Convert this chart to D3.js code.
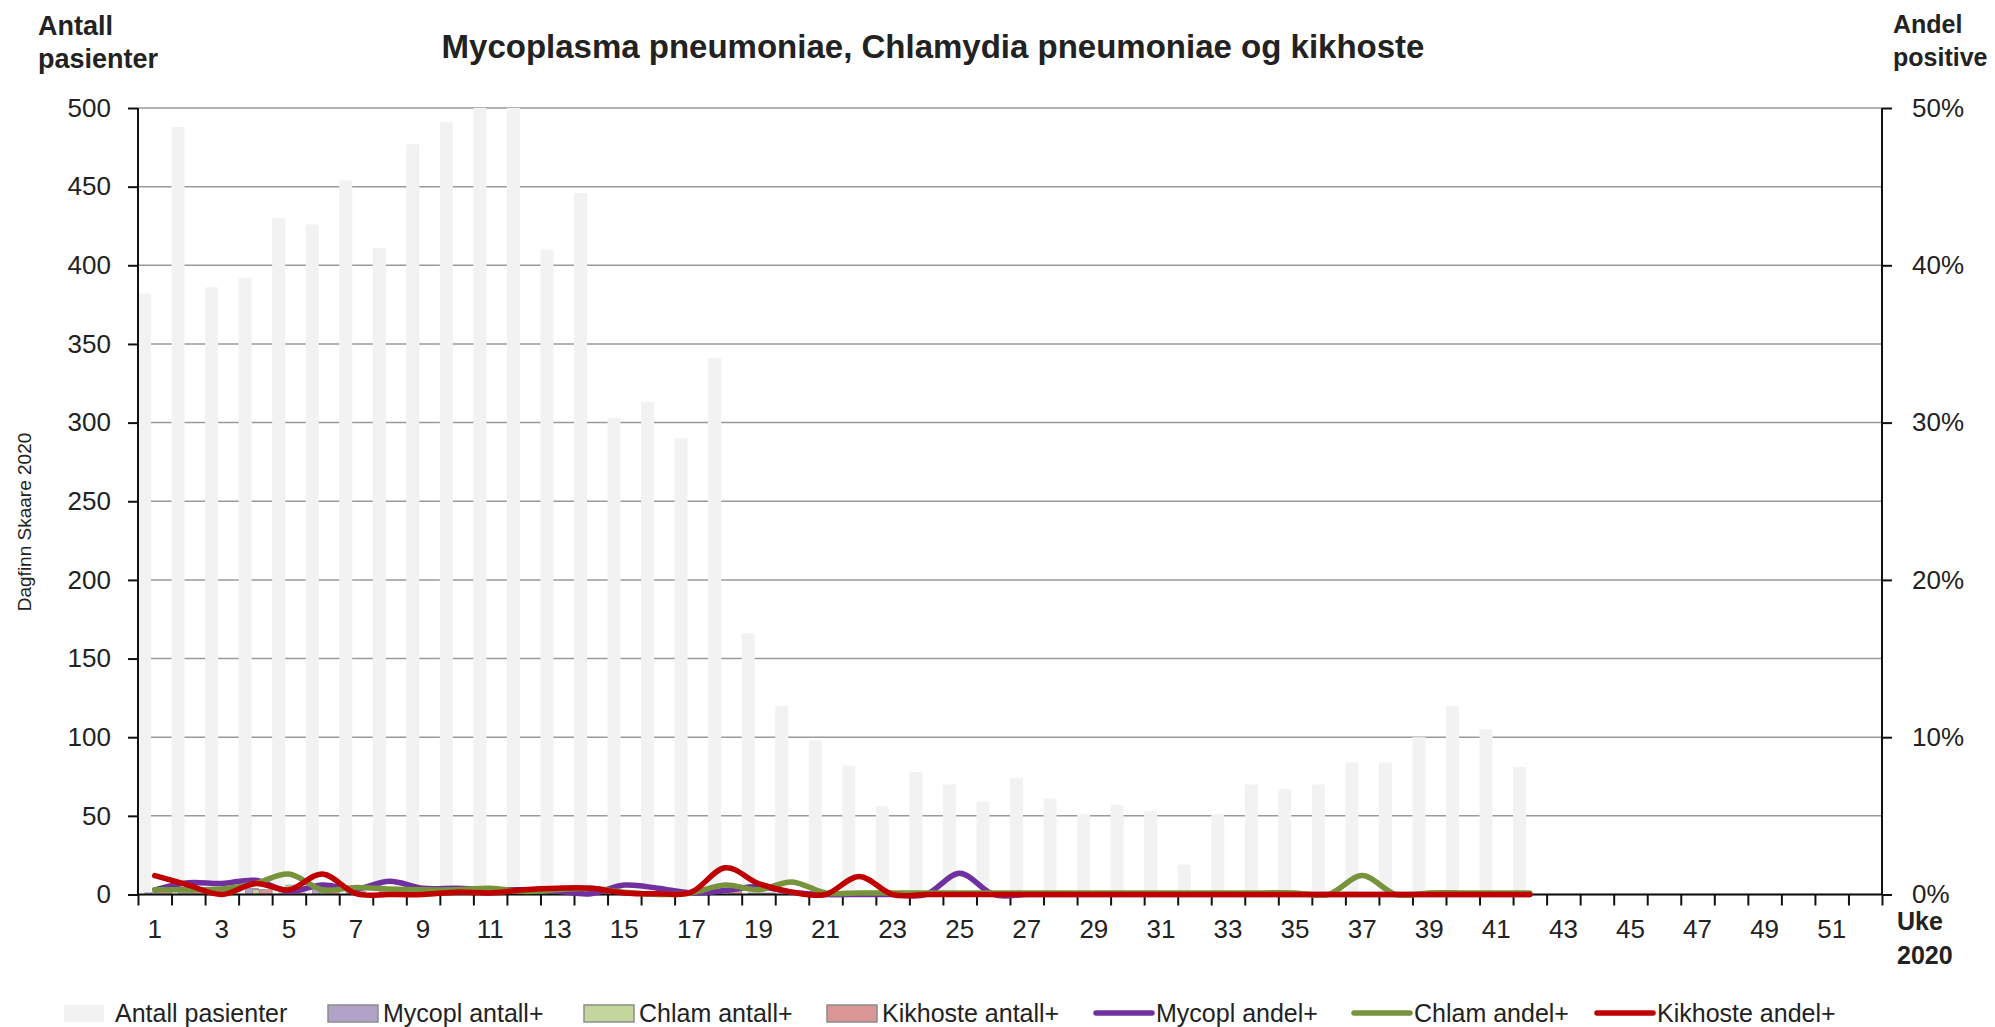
<!DOCTYPE html>
<html lang="no">
  <head>
    <meta charset="UTF-8" />
    <title>Mycoplasma pneumoniae, Chlamydia pneumoniae og kikhoste</title>
    <script src="https://d3js.org/d3.v7.min.js"></script>
    <style>
      body {
        margin: 0;
        background: #fff;
      }
      svg {
        font-family: "Liberation Sans", Arial, sans-serif;
        fill: #222;
      }
      .tick text {
        fill: #222;
      }
    </style>
  </head>
  <body>
    <svg id="chart" width="1995" height="1027"></svg>
    <script>
      // uke 1..52, data finnes for uke 1..42
      const weeks = d3.range(1, 53);
      const dataWeeks = d3.range(1, 43);

      const antallPasienter = [382, 488, 386, 392, 430, 426, 454, 411, 477, 491, 515, 520, 410, 446, 303, 313, 290, 341, 166, 120, 98, 82, 56, 78, 70, 59, 74, 61, 51, 57, 53, 19, 51, 70, 67, 70, 84, 84, 100, 120, 105, 81];
      const mycoplAntall = [1, 4, 3, 4, 1, 3, 2, 4, 2, 2, 2, 2, 1, 0, 2, 1, 0, 1, 1, 0, 0, 0, 0, 0, 1, 0, 0, 0, 0, 0, 0, 0, 0, 0, 0, 0, 0, 0, 0, 0, 0, 0];
      const chlamAntall = [1, 1, 1, 3, 6, 1, 2, 1, 1, 1, 2, 1, 1, 2, 0, 0, 0, 2, 0, 1, 0, 0, 0, 0, 0, 0, 0, 0, 0, 0, 0, 0, 0, 0, 0, 0, 1, 0, 0, 0, 0, 0];
      const kikhosteAntall = [5, 3, 0, 3, 1, 6, 0, 0, 0, 1, 1, 1, 2, 2, 0, 0, 0, 6, 1, 0, 0, 1, 0, 0, 0, 0, 0, 0, 0, 0, 0, 0, 0, 0, 0, 0, 0, 0, 0, 0, 0, 0];

      // andel positive i prosent
      const mycoplAndel = [0.3, 0.75, 0.7, 0.9, 0.2, 0.6, 0.35, 0.85, 0.4, 0.4, 0.3, 0.3, 0.2, 0.05, 0.6, 0.4, 0.1, 0.25, 0.5, 0.15, 0, 0, 0, 0, 1.35, 0, 0, 0, 0, 0, 0, 0, 0, 0, 0, 0, 0, 0, 0, 0, 0, 0];
      const chlamAndel = [0.3, 0.3, 0.35, 0.7, 1.3, 0.3, 0.45, 0.35, 0.3, 0.3, 0.4, 0.2, 0.3, 0.4, 0.15, 0, 0.1, 0.6, 0.3, 0.8, 0.1, 0.1, 0.1, 0.1, 0.1, 0.1, 0.1, 0.1, 0.1, 0.1, 0.1, 0.1, 0.1, 0.1, 0.1, 0, 1.2, 0, 0.1, 0.1, 0.1, 0.1];
      const kikhosteAndel = [1.2, 0.6, 0, 0.7, 0.3, 1.3, 0.05, 0, 0, 0.15, 0.1, 0.3, 0.4, 0.4, 0.1, 0.05, 0.15, 1.7, 0.7, 0.15, 0, 1.15, 0, 0, 0, 0, 0, 0, 0, 0, 0, 0, 0, 0, 0, 0, 0, 0, 0, 0, 0, 0];

      const leftTicks = d3.range(0, 501, 50);
      const rightTicks = d3.range(0, 51, 10);

      const barSeries = [
        { name: "Antall pasienter", values: antallPasienter, fill: "#f2f2f2", stroke: "none" },
        { name: "Mycopl antall+", values: mycoplAntall, fill: "#b3a2c7", stroke: "#7f7f7f" },
        { name: "Chlam antall+", values: chlamAntall, fill: "#c3d69b", stroke: "#7f7f7f" },
        { name: "Kikhoste antall+", values: kikhosteAntall, fill: "#d99694", stroke: "#7f7f7f" },
      ];
      const lineSeries = [
        { name: "Mycopl andel+", values: mycoplAndel, color: "#7030a0" },
        { name: "Chlam andel+", values: chlamAndel, color: "#77933c" },
        { name: "Kikhoste andel+", values: kikhosteAndel, color: "#c00000" },
      ];

      const plotL = 138, plotR = 1882, plotT = 108, plotB = 894.5;

      const svg = d3.select("#chart");

      const x = d3.scaleBand().domain(weeks).range([plotL, plotR]).padding(0);
      const xEdge = d3.scaleLinear().domain([0, 52]).range([plotL, plotR]);
      const y = d3.scaleLinear().domain([0, 500]).range([plotB, plotT]);
      const y2 = d3.scaleLinear().domain([0, 50]).range([plotB, plotT]);

      svg.append("defs").append("clipPath").attr("id", "plot")
        .append("rect").attr("x", plotL).attr("y", plotT).attr("width", plotR - plotL).attr("height", plotB - plotT);

      // rutenett
      svg.append("g")
        .selectAll("line")
        .data(leftTicks)
        .join("line")
        .attr("x1", plotL).attr("x2", plotR)
        .attr("y1", (d) => y(d)).attr("y2", (d) => y(d))
        .attr("stroke", "#9a9a9a")
        .attr("stroke-width", 1.5);

      // søyler
      const barW = 13;
      const sub = d3.scalePoint().domain(barSeries.map((s) => s.name)).range([0, x.bandwidth() - barW]);
      const bars = svg.append("g").attr("clip-path", "url(#plot)");
      barSeries.forEach((s) => {
        bars.append("g")
          .selectAll("rect")
          .data(dataWeeks)
          .join("rect")
          .attr("x", (w) => x(w) + sub(s.name))
          .attr("width", barW)
          .attr("y", (w, i) => y(s.values[i]))
          .attr("height", (w, i) => plotB - y(s.values[i]))
          .attr("fill", s.fill)
          .attr("stroke", s.stroke)
          .attr("stroke-width", s.stroke === "none" ? 0 : 0.6);
      });

      // akser
      const yAxis = svg.append("g")
        .attr("transform", `translate(${plotL},0)`)
        .call(d3.axisLeft(y).tickValues(leftTicks).tickSize(10).tickPadding(17));
      const y2Axis = svg.append("g")
        .attr("transform", `translate(${plotR},0)`)
        .call(d3.axisRight(y2).tickValues(rightTicks).tickFormat((d) => d + "%").tickSize(10).tickPadding(20));
      const xTicks = svg.append("g")
        .attr("transform", `translate(0,${plotB})`)
        .call(d3.axisBottom(xEdge).tickValues(d3.range(0, 53)).tickFormat("").tickSize(11));
      const xLabels = svg.append("g")
        .attr("transform", `translate(0,${plotB})`)
        .call(d3.axisBottom(x).tickValues(weeks.filter((w) => w % 2 === 1)).tickSize(0).tickPadding(25));
      xLabels.select(".domain").remove();

      [yAxis, y2Axis, xTicks, xLabels].forEach((a) => {
        a.selectAll("text").style("font-size", "26px").attr("font-family", "Liberation Sans, Arial, sans-serif");
        a.selectAll("line, path").attr("stroke", "#111").attr("stroke-width", 2);
      });
      yAxis.select(".domain").attr("d", `M0,${plotT}V${plotB}`);
      y2Axis.select(".domain").attr("d", `M0,${plotT}V${plotB}`);
      xTicks.select(".domain").attr("d", `M${plotL},0H${plotR}`);

      // linjer
      const line = d3.line()
        .x((d) => x(d.week) + x.bandwidth() / 2)
        .y((d) => y2(d.v))
        .curve(d3.curveCatmullRom.alpha(0));
      lineSeries.forEach((s) => {
        svg.append("path")
          .datum(dataWeeks.map((w, i) => ({ week: w, v: s.values[i] })))
          .attr("d", line)
          .attr("fill", "none")
          .attr("stroke", s.color)
          .attr("stroke-width", 5.5)
          .attr("stroke-linecap", "round")
          .attr("stroke-linejoin", "round");
      });

      // tekster
      svg.append("text")
        .attr("x", 933).attr("y", 58)
        .attr("text-anchor", "middle")
        .style("font-size", "33px").style("font-weight", "bold")
        .text("Mycoplasma pneumoniae, Chlamydia pneumoniae og kikhoste");

      const bold = (lines, xPos, ys, size) => {
        lines.forEach((t, i) => {
          svg.append("text")
            .attr("x", xPos).attr("y", ys[i])
            .style("font-size", size + "px").style("font-weight", "bold")
            .text(t);
        });
      };
      bold(["Antall", "pasienter"], 38, [35, 68], 27);
      bold(["Andel", "positive"], 1893, [33, 66], 25);
      bold(["Uke", "2020"], 1897, [930, 964], 25);

      svg.append("text")
        .attr("transform", "translate(31,522) rotate(-90)")
        .attr("text-anchor", "middle")
        .style("font-size", "19px")
        .text("Dagfinn Skaare 2020");

      // forklaring
      const legendX = [64, 328, 584, 827, 1096, 1354, 1597];
      const legendY = 1013;
      const legend = svg.append("g");
      barSeries.forEach((s, i) => {
        const g = legend.append("g").attr("transform", `translate(${legendX[i]},${legendY})`);
        g.append("rect")
          .attr("x", 0).attr("y", -8)
          .attr("width", i === 0 ? 40 : 50).attr("height", 17)
          .attr("fill", s.fill)
          .attr("stroke", s.stroke === "none" ? "none" : "#8c8c8c")
          .attr("stroke-width", 1.5);
        g.append("text")
          .attr("x", i === 0 ? 51 : 55).attr("y", 9)
          .style("font-size", "25px")
          .text(s.name);
      });
      lineSeries.forEach((s, i) => {
        const g = legend.append("g").attr("transform", `translate(${legendX[i + 4]},${legendY})`);
        g.append("line")
          .attr("x1", 0).attr("x2", 56)
          .attr("y1", 0).attr("y2", 0)
          .attr("stroke", s.color)
          .attr("stroke-width", 5.5)
          .attr("stroke-linecap", "round");
        g.append("text")
          .attr("x", 60).attr("y", 9)
          .style("font-size", "25px")
          .text(s.name);
      });
    </script>
  </body>
</html>
